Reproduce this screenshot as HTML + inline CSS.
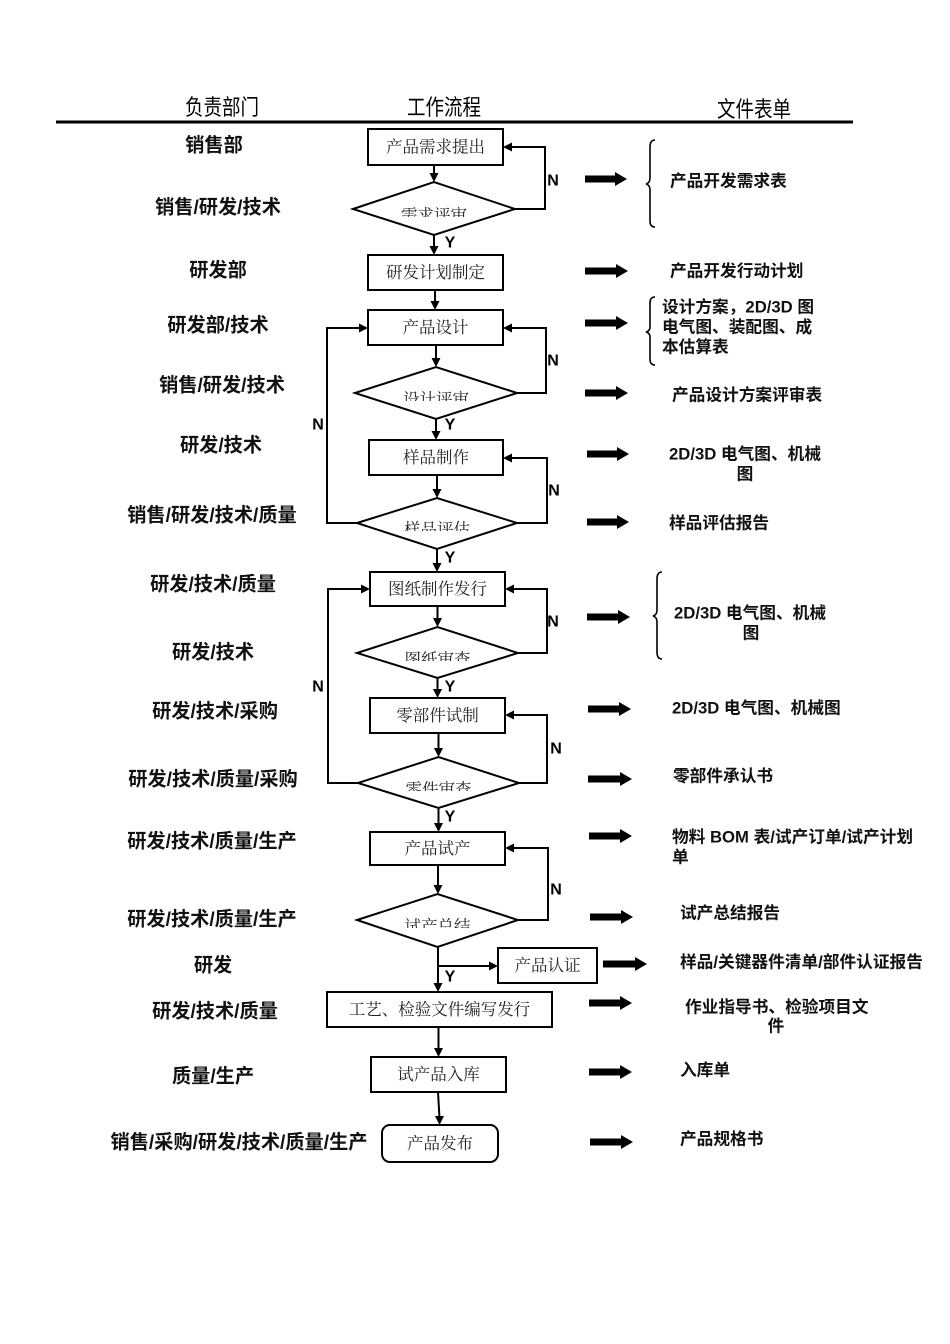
<!DOCTYPE html>
<html>
<head>
<meta charset="utf-8">
<style>
  html,body{margin:0;padding:0;background:#fff;}
  body{width:950px;height:1344px;overflow:hidden;}
  svg{display:block;}
  .hdr{font-family:"Liberation Sans","WenQuanYi Zen Hei","Noto Sans CJK SC",sans-serif;font-size:18.5px;fill:#000;}
  .dept{font-family:"Liberation Sans","Noto Sans CJK SC",sans-serif;font-size:19.2px;font-weight:bold;fill:#111;}
  .doc{font-family:"Liberation Sans","Noto Sans CJK SC",sans-serif;font-size:16.7px;font-weight:bold;fill:#111;}
  .box{font-family:"Liberation Serif","Noto Serif CJK SC",serif;font-size:16.5px;fill:#222;}
  .yn{font-family:"Liberation Sans",sans-serif;font-size:16px;font-weight:bold;fill:#000;}
</style>
</head>
<body>
<svg width="950" height="1344" viewBox="0 0 950 1344" xmlns="http://www.w3.org/2000/svg">
  <defs>
    <clipPath id="c1"><rect x="340" y="170" width="200" height="47"/></clipPath>
    <clipPath id="c2"><rect x="340" y="360" width="200" height="41"/></clipPath>
    <clipPath id="c3"><rect x="340" y="490" width="200" height="41"/></clipPath>
    <clipPath id="c4"><rect x="340" y="620" width="200" height="41"/></clipPath>
    <clipPath id="c5"><rect x="340" y="750" width="200" height="41"/></clipPath>
    <clipPath id="c6"><rect x="340" y="887" width="200" height="41"/></clipPath>
  </defs>

  <!-- Header -->
  <g class="hdr">
    <text x="222" y="115" text-anchor="middle" transform="translate(0,-23) scale(1,1.2)">负责部门</text>
    <text x="444" y="115" text-anchor="middle" transform="translate(0,-23) scale(1,1.2)">工作流程</text>
    <text x="754" y="117" text-anchor="middle" transform="translate(0,-23.4) scale(1,1.2)">文件表单</text>
  </g>
  <line x1="56" y1="122" x2="853" y2="122" stroke="#000" stroke-width="3"/>

  <!-- Department labels -->
  <g class="dept" text-anchor="middle" dominant-baseline="central">
    <text x="214" y="146">销售部</text>
    <text x="218" y="208">销售/研发/技术</text>
    <text x="218" y="271">研发部</text>
    <text x="218" y="326">研发部/技术</text>
    <text x="222" y="386">销售/研发/技术</text>
    <text x="221" y="446">研发/技术</text>
    <text x="212" y="516">销售/研发/技术/质量</text>
    <text x="213" y="585">研发/技术/质量</text>
    <text x="213" y="653">研发/技术</text>
    <text x="215" y="712">研发/技术/采购</text>
    <text x="213" y="780">研发/技术/质量/采购</text>
    <text x="212" y="842">研发/技术/质量/生产</text>
    <text x="212" y="920">研发/技术/质量/生产</text>
    <text x="213" y="966">研发</text>
    <text x="215" y="1012">研发/技术/质量</text>
    <text x="213" y="1077">质量/生产</text>
    <text x="239" y="1143">销售/采购/研发/技术/质量/生产</text>
  </g>

  <!-- Flow boxes -->
  <g fill="none" stroke="#000" stroke-width="2">
    <rect x="368" y="129" width="135" height="36"/>
    <rect x="368" y="255" width="135" height="35"/>
    <rect x="368" y="310" width="135" height="35"/>
    <rect x="369" y="440" width="134" height="35"/>
    <rect x="370" y="572" width="135" height="34"/>
    <rect x="370" y="698" width="135" height="35"/>
    <rect x="370" y="832" width="135" height="33"/>
    <rect x="498" y="948" width="99" height="35"/>
    <rect x="327" y="992" width="225" height="35"/>
    <rect x="371" y="1057" width="135" height="35"/>
    <rect x="382" y="1125" width="116" height="37" rx="8" ry="8"/>
    <!-- Diamonds -->
    <polygon points="353,209 434,182 515,209 434,235"/>
    <polygon points="355,393 436,367 517,393 436,419"/>
    <polygon points="357,523 437,498 517,523 437,549"/>
    <polygon points="357,653 437.5,627 518,653 437.5,678"/>
    <polygon points="358,783 438.5,757 519,783 438.5,808"/>
    <polygon points="357,920 437.5,894 518,920 437.5,947"/>
  </g>

  <!-- Box texts -->
  <g class="box" text-anchor="middle" dominant-baseline="central">
    <text x="435.5" y="147">产品需求提出</text>
    <text x="435.5" y="272.5">研发计划制定</text>
    <text x="435.5" y="327.5">产品设计</text>
    <text x="436" y="457.5">样品制作</text>
    <text x="437.5" y="589">图纸制作发行</text>
    <text x="437.5" y="715.5">零部件试制</text>
    <text x="437.5" y="848.5">产品试产</text>
    <text x="547.5" y="965.5">产品认证</text>
    <text x="439.5" y="1009.5">工艺、检验文件编写发行</text>
    <text x="438.5" y="1074.5">试产品入库</text>
    <text x="440" y="1143.5">产品发布</text>
    <!-- diamond texts (clipped) -->
    <text x="434" y="215.5" clip-path="url(#c1)">需求评审</text>
    <text x="436" y="399.5" clip-path="url(#c2)">设计评审</text>
    <text x="437" y="529.5" clip-path="url(#c3)">样品评估</text>
    <text x="437.5" y="659.5" clip-path="url(#c4)">图纸审查</text>
    <text x="438.5" y="789.5" clip-path="url(#c5)">零件审查</text>
    <text x="437.5" y="926.5" clip-path="url(#c6)">试产总结</text>
  </g>

  <!-- Connector lines -->
  <g fill="none" stroke="#000" stroke-width="2">
    <line x1="434" y1="165" x2="434" y2="175"/>
    <line x1="434" y1="235" x2="434" y2="248"/>
    <line x1="435" y1="290" x2="435" y2="303"/>
    <line x1="436" y1="345" x2="436" y2="360"/>
    <line x1="436" y1="419" x2="436" y2="433"/>
    <line x1="437" y1="475" x2="437" y2="491"/>
    <line x1="437" y1="549" x2="437" y2="565"/>
    <line x1="437.5" y1="606" x2="437.5" y2="620"/>
    <line x1="437.5" y1="678" x2="437.5" y2="691"/>
    <line x1="438.5" y1="733" x2="438.5" y2="750"/>
    <line x1="438.5" y1="808" x2="438.5" y2="825"/>
    <line x1="438" y1="865" x2="438" y2="887"/>
    <line x1="438" y1="947" x2="438" y2="985"/>
    <line x1="438" y1="966" x2="491" y2="966"/>
    <line x1="438.5" y1="1027" x2="438.5" y2="1050"/>
    <line x1="438" y1="1092" x2="439.5" y2="1118"/>
    <!-- right N loops -->
    <polyline points="515,209 545,209 545,147 510,147"/>
    <polyline points="517,393 546,393 546,328 510,328"/>
    <polyline points="517,523 547,523 547,458 510,458"/>
    <polyline points="518,653 547,653 547,589 512,589"/>
    <polyline points="519,783 547,783 547,715 512,715"/>
    <polyline points="518,920 548,920 548,848 512,848"/>
    <!-- left N loops -->
    <polyline points="357,523 327,523 327,328 361,328"/>
    <polyline points="358,783 328,783 328,589 363,589"/>
  </g>

  <!-- Arrowheads -->
  <g fill="#000">
    <polygon points="429.5,173 438.5,173 434,182"/>
    <polygon points="429.5,246 438.5,246 434,255"/>
    <polygon points="430.5,301 439.5,301 435,310"/>
    <polygon points="431.5,358 440.5,358 436,367"/>
    <polygon points="431.5,431 440.5,431 436,440"/>
    <polygon points="432.5,489 441.5,489 437,498"/>
    <polygon points="432.5,563 441.5,563 437,572"/>
    <polygon points="433,618 442,618 437.5,627"/>
    <polygon points="433,689 442,689 437.5,698"/>
    <polygon points="434,748 443,748 438.5,757"/>
    <polygon points="434,823 443,823 438.5,832"/>
    <polygon points="433.5,885 442.5,885 438,894"/>
    <polygon points="433.5,983 442.5,983 438,992"/>
    <polygon points="434,1048 443,1048 438.5,1057"/>
    <polygon points="435,1116 444,1116 439.5,1125"/>
    <polygon points="498,966 489,961.5 489,970.5"/>
    <polygon points="503,147 512,142.5 512,151.5"/>
    <polygon points="503,328 512,323.5 512,332.5"/>
    <polygon points="503,458 512,453.5 512,462.5"/>
    <polygon points="505,589 514,584.5 514,593.5"/>
    <polygon points="505,715 514,710.5 514,719.5"/>
    <polygon points="505,848 514,843.5 514,852.5"/>
    <polygon points="368,328 359,323.5 359,332.5"/>
    <polygon points="370,589 361,584.5 361,593.5"/>
  </g>

  <!-- Y / N labels -->
  <g class="yn" text-anchor="middle" dominant-baseline="central">
    <text x="553" y="181">N</text>
    <text x="553" y="361">N</text>
    <text x="554" y="491">N</text>
    <text x="553" y="622">N</text>
    <text x="556" y="749">N</text>
    <text x="556" y="890">N</text>
    <text x="318" y="425">N</text>
    <text x="318" y="687">N</text>
    <text x="450" y="243">Y</text>
    <text x="450" y="425">Y</text>
    <text x="450" y="558">Y</text>
    <text x="450" y="687">Y</text>
    <text x="450" y="817">Y</text>
    <text x="450" y="977">Y</text>
  </g>

  <!-- Thick arrows -->
  <g fill="#000">
    <path d="M585,175.5 H615 V172 L627,179 L615,186 V182.5 H585 Z"/>
    <path d="M585,267.5 H616 V264 L628,271 L616,278 V274.5 H585 Z"/>
    <path d="M585,319.5 H616 V316 L628,323 L616,330 V326.5 H585 Z"/>
    <path d="M585,389.5 H616 V386 L628,393 L616,400 V396.5 H585 Z"/>
    <path d="M587,450.5 H617 V447 L629,454 L617,461 V457.5 H587 Z"/>
    <path d="M587,518.5 H617 V515 L629,522 L617,529 V525.5 H587 Z"/>
    <path d="M587,613.5 H618 V610 L630,617 L618,624 V620.5 H587 Z"/>
    <path d="M588,705.5 H619 V702 L631,709 L619,716 V712.5 H588 Z"/>
    <path d="M588,775.5 H620 V772 L632,779 L620,786 V782.5 H588 Z"/>
    <path d="M589,832.5 H620 V829 L632,836 L620,843 V839.5 H589 Z"/>
    <path d="M590,913.5 H621 V910 L633,917 L621,924 V920.5 H590 Z"/>
    <path d="M603,960.5 H635 V957 L647,964 L635,971 V967.5 H603 Z"/>
    <path d="M589,999.5 H620 V996 L632,1003 L620,1010 V1006.5 H589 Z"/>
    <path d="M589,1068.5 H620 V1065 L632,1072 L620,1079 V1075.5 H589 Z"/>
    <path d="M590,1138.5 H621 V1135 L633,1142 L621,1149 V1145.5 H590 Z"/>
  </g>

  <!-- Braces -->
  <g fill="none" stroke="#000" stroke-width="1.6">
    <path d="M655,140 Q650,140 650,147 L650,178 Q650,183 646,184 Q650,185 650,190 L650,221 Q650,227 655,227"/>
    <path d="M655,297 Q650,297 650,303 L650,327 Q650,331 646,332 Q650,333 650,337 L650,359 Q650,365 655,365"/>
    <path d="M662,572 Q657,572 657,579 L657,610 Q657,615 653,616 Q657,617 657,622 L657,652 Q657,659 662,659"/>
  </g>

  <!-- Document texts -->
  <g class="doc" dominant-baseline="central">
    <text x="670" y="181">产品开发需求表</text>
    <text x="670" y="271">产品开发行动计划</text>
    <text x="662" y="307">设计方案，2D/3D 图</text>
    <text x="662" y="327">电气图、装配图、成</text>
    <text x="662" y="347">本估算表</text>
    <text x="672" y="395">产品设计方案评审表</text>
    <text x="669" y="454">2D/3D 电气图、机械</text>
    <text x="745" y="474" text-anchor="middle">图</text>
    <text x="669" y="523">样品评估报告</text>
    <text x="674" y="613">2D/3D 电气图、机械</text>
    <text x="751" y="633" text-anchor="middle">图</text>
    <text x="672" y="708">2D/3D 电气图、机械图</text>
    <text x="673" y="776">零部件承认书</text>
    <text x="672" y="837">物料 BOM 表/试产订单/试产计划</text>
    <text x="672" y="857">单</text>
    <text x="680" y="913">试产总结报告</text>
    <text x="680" y="962">样品/关键器件清单/部件认证报告</text>
    <text x="685" y="1007">作业指导书、检验项目文</text>
    <text x="776" y="1026" text-anchor="middle">件</text>
    <text x="680" y="1070">入库单</text>
    <text x="680" y="1139">产品规格书</text>
  </g>
</svg>
</body>
</html>
